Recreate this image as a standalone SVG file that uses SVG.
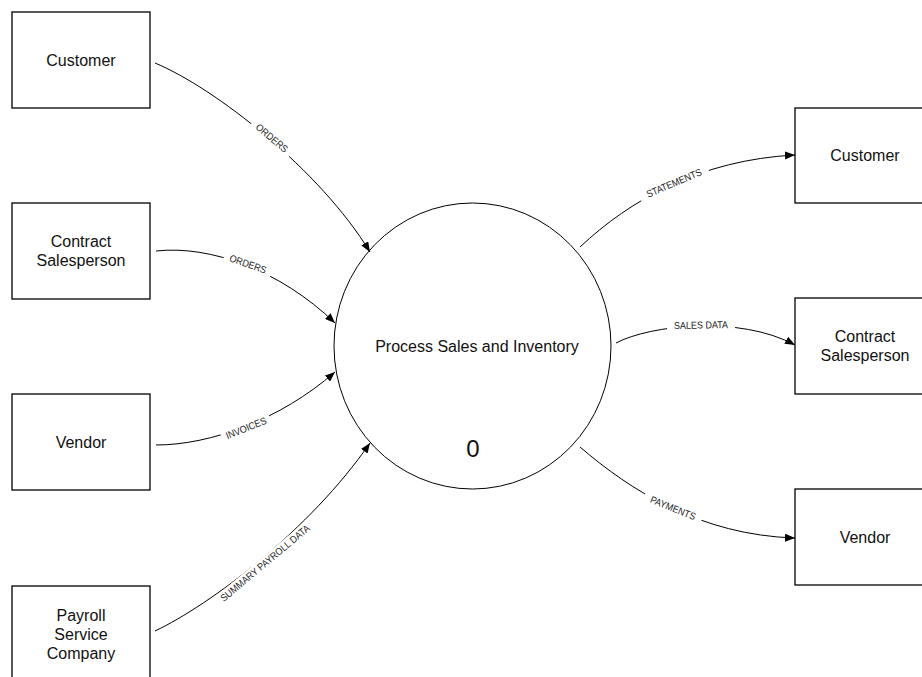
<svg xmlns="http://www.w3.org/2000/svg" width="922" height="677" viewBox="0 0 922 677">
<style>
.box{fill:#fff;stroke:#000;stroke-width:1.3}
.nt{font-family:"Liberation Sans",Arial,sans-serif;font-size:16px;fill:#111;text-anchor:middle}
.big{font-family:"Liberation Sans",Arial,sans-serif;font-size:24px;fill:#111;text-anchor:middle}
.flow{fill:none;stroke:#000;stroke-width:1;marker-end:url(#ah)}
.lt{font-family:"Liberation Sans",Arial,sans-serif;font-size:10px;fill:#222;text-anchor:middle}
.gap{fill:#fff}
</style>
<defs>
<marker id="ah" viewBox="0 0 10 8" refX="10" refY="4" markerWidth="10" markerHeight="8" markerUnits="userSpaceOnUse" orient="auto">
<path d="M0,0 L10,4 L0,8 Z" fill="#000"/>
</marker>
</defs>
<rect width="922" height="677" fill="#fff"/>
<g id="connectors">
<path class="flow" d="M155,63 C215,88 320,170 370,252"/>
<path class="flow" d="M156,251 C210,245 280,270 335,323"/>
<path class="flow" d="M156,445 C210,445 280,420 335,372"/>
<path class="flow" d="M155,631 C210,605 310,530 370,443"/>
<path class="flow" d="M580,247 C630,200 700,160 795,155"/>
<path class="flow" d="M616,343 C650,325 740,315 795,345"/>
<path class="flow" d="M580,447 C630,490 700,535 795,538"/>
<g transform="translate(272,138) rotate(40)"><rect class="gap" x="-25" y="-6" width="50" height="12"/><text class="lt" y="3.5" transform="scale(0.9,1)">ORDERS</text></g>
<g transform="translate(248,264) rotate(19)"><rect class="gap" x="-25" y="-6" width="50" height="12"/><text class="lt" y="3.5" transform="scale(0.9,1)">ORDERS</text></g>
<g transform="translate(246,428) rotate(-22)"><rect class="gap" x="-26" y="-6" width="52" height="12"/><text class="lt" y="3.5" transform="scale(0.9,1)">INVOICES</text></g>
<g transform="translate(265,563) rotate(-40)"><rect class="gap" x="-64" y="-6" width="128" height="12"/><text class="lt" y="3.5" transform="scale(0.9,1)">SUMMARY PAYROLL DATA</text></g>
<g transform="translate(674,183) rotate(-23)"><rect class="gap" x="-37" y="-6" width="74" height="12"/><text class="lt" y="3.5" transform="scale(0.9,1)">STATEMENTS</text></g>
<g transform="translate(701,325) rotate(-1)"><rect class="gap" x="-34" y="-6" width="68" height="12"/><text class="lt" y="3.5" transform="scale(0.9,1)">SALES DATA</text></g>
<g transform="translate(673,508) rotate(22)"><rect class="gap" x="-31" y="-6" width="62" height="12"/><text class="lt" y="3.5" transform="scale(0.9,1)">PAYMENTS</text></g>
</g>
<g id="process">
<ellipse cx="472.5" cy="346" rx="138.5" ry="143" fill="none" stroke="#000" stroke-width="1"/>
<text class="nt" x="477" y="352">Process Sales and Inventory</text>
<text class="big" x="473" y="457">0</text>
</g>
<g id="customer-src"><rect class="box" x="12" y="12" width="138" height="96"/><text class="nt" x="81" y="66">Customer</text></g>
<g id="contract-src"><rect class="box" x="12" y="203" width="138" height="96"/><text class="nt" x="81" y="247">Contract</text><text class="nt" x="81" y="266">Salesperson</text></g>
<g id="vendor-src"><rect class="box" x="12" y="394" width="138" height="96"/><text class="nt" x="81" y="448">Vendor</text></g>
<g id="payroll-src"><rect class="box" x="12" y="586" width="138" height="96"/><text class="nt" x="81" y="621">Payroll</text><text class="nt" x="81" y="640">Service</text><text class="nt" x="81" y="659">Company</text></g>
<g id="customer-dst"><rect class="box" x="795" y="108" width="140" height="95"/><text class="nt" x="865" y="161">Customer</text></g>
<g id="contract-dst"><rect class="box" x="795" y="298" width="140" height="96"/><text class="nt" x="865" y="342">Contract</text><text class="nt" x="865" y="361">Salesperson</text></g>
<g id="vendor-dst"><rect class="box" x="795" y="489" width="140" height="96"/><text class="nt" x="865" y="543">Vendor</text></g>
</svg>
